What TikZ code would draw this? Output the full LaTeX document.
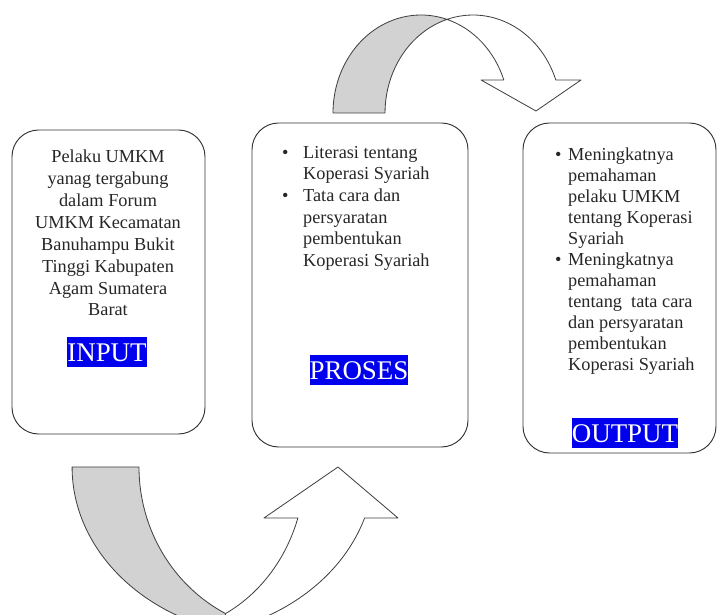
\documentclass[tikz,border=0pt]{standalone}
\usepackage{fontspec}
\setmainfont{Liberation Serif}
\usepackage{tikz}

\definecolor{labelblue}{RGB}{0,0,238}
\definecolor{bandgray}{RGB}{210,210,210}

\tikzset{
  stagebox/.style={draw=black!80, line width=0.8pt, rounded corners=0.8cm},
  stagetext/.style={font=\fontsize{15.6}{18.5}\selectfont,
    text=black!85, inner sep=0pt},
  stagelabel/.style={fill=labelblue, text=white, font=\fontsize{23}{23}\selectfont,
    inner xsep=0pt, inner ysep=0pt, text height=20.5pt, text depth=5pt},
  band/.style={draw=black!75, line width=0.7pt, line join=round}
}

\begin{document}
\begin{tikzpicture}[x=0.03cm, y=0.03cm]
        \useasboundingbox (0,0) rectangle (718,615);
        \clip (0,0) rectangle (718,615);

        % Curved arrow, input to proses
        \draw [band, fill=bandgray] (72,148) -- (139,148)
            arc[start angle=180, end angle=242.7, x radius=160, y radius=165]
            -- (223,-16)
            arc[start angle=254.7, end angle=180, x radius=205, y radius=170] -- cycle;
        \draw [band, fill=white] (225.5,1.4)
            arc[start angle=297.3, end angle=342, x radius=147, y radius=165]
            -- (264,97) -- (338,148) -- (398,97) -- (364.6,97)
            arc[start angle=342.5, end angle=285.3, x radius=205, y radius=170] -- cycle;

        % Curved arrow, proses to output
        \draw [band, fill=bandgray] (333,502)
            arc[start angle=180, end angle=72.8, x radius=88, y radius=98]
            arc[start angle=107.2, end angle=180, x radius=88, y radius=98] -- cycle;
        \draw [band, fill=white] (447,595.6)
            arc[start angle=72.8, end angle=19.7, x radius=88, y radius=98]
            -- (481,535) -- (536,504) -- (581,535) -- (555.8,535)
            arc[start angle=19.7, end angle=107.2, x radius=88, y radius=98] -- cycle;

        % Input
        \node [stagebox,
            minimum width=5.79cm,
            minimum height=9.12cm] (input) at (108.5,333) {};
        \node [stagetext, font=\fontsize{15.6}{18.7}\selectfont,
            align=center, anchor=base] (inputtext) at (108,299)
            {Pelaku UMKM\\yanag tergabung\\dalam Forum\\UMKM Kecamatan\\Banuhampu Bukit\\Tinggi Kabupaten\\Agam Sumatera\\Barat};
        \node [stagelabel] (inputlabel) at (107,263) {INPUT};

        % Proses
        \node [stagebox,
            minimum width=6.48cm,
            minimum height=9.72cm] (proses) at (360,330) {};
        \node [stagetext, align=left, anchor=base west] (prosestext) at (303,348.5)
            {\llap{\textbullet\hspace{0.44cm}}Literasi tentang\\Koperasi Syariah\\
             \llap{\textbullet\hspace{0.44cm}}Tata cara dan\\persyaratan\\pembentukan\\Koperasi Syariah};
        \node [stagelabel] (proseslabel) at (359,245) {PROSES};

        % Output
        \node [stagebox,
            minimum width=5.79cm,
            minimum height=9.9cm] (output) at (619.5,327) {};
        \node [stagetext, font=\fontsize{15.6}{17.9}\selectfont,
            align=left, anchor=base west] (outputtext) at (568,244.3)
            {\llap{\textbullet\hspace{0.2cm}}Meningkatnya\\pemahaman\\pelaku UMKM\\tentang Koperasi\\Syariah\\
             \llap{\textbullet\hspace{0.2cm}}Meningkatnya\\pemahaman\\tentang~ tata cara\\dan persyaratan\\pembentukan\\Koperasi Syariah};
        \node [stagelabel] (outputlabel) at (625,182) {OUTPUT};

\end{tikzpicture}
\end{document}
